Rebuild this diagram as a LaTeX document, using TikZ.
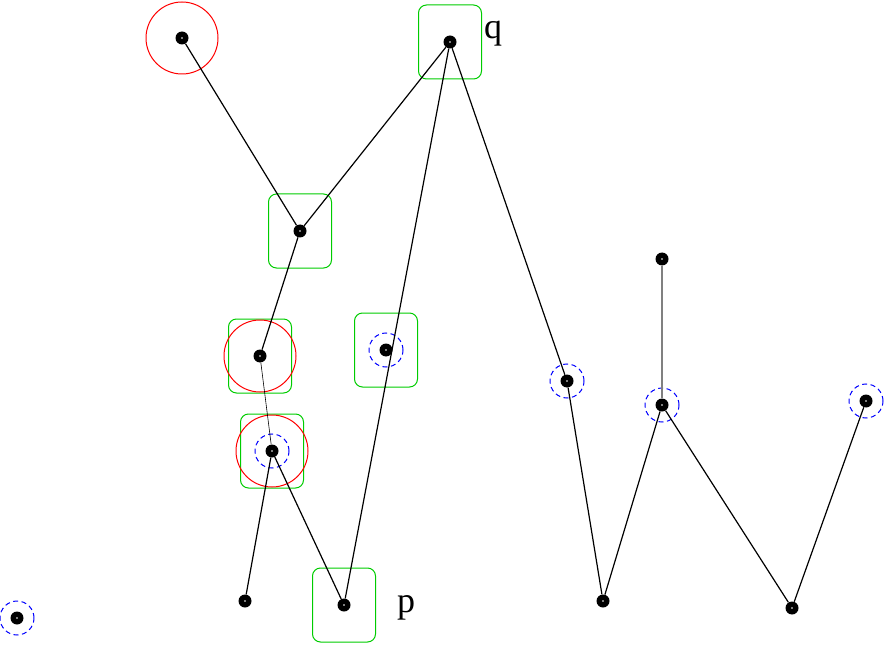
\documentclass[tikz,border=0pt]{standalone}
\usepackage{fontspec}
\setmainfont{Liberation Serif}
\definecolor{boxgreen}{RGB}{0, 204, 0}

\begin{document}
\begin{tikzpicture}[
  x=1pt, y=-1pt,
  vert/.style={circle, fill=black, inner sep=0pt, minimum size=13pt,
    path picture={\fill[white] (path picture bounding box.center) circle (0.8pt);}},
  ring/.style={draw=red, line width=1pt},
  gbox/.style={draw=boxgreen, line width=1pt, rounded corners=8pt, minimum width=63pt, minimum height=74pt, inner sep=0pt},
  dring/.style={draw=blue, line width=1pt, dash pattern=on 5pt off 3.5pt},
  edge/.style={line width=1.2pt},
  lab/.style={font=\fontsize{36}{40}\selectfont, inner sep=0pt},
]
\useasboundingbox (0,0) rectangle (889,647);

% vertices
\node[vert] (a) at (182,38) {};
\node[vert] (q) at (450,42) {};
\node[vert] (b) at (300,231) {};
\node[vert] (c) at (260,356) {};
\node[vert] (d) at (386,350) {};
\node[vert] (e) at (272,451) {};
\node[vert] (f) at (245,601) {};
\node[vert] (p) at (344,605) {};
\node[vert] (g) at (567,381) {};
\node[vert] (h) at (603,601) {};
\node[vert] (i) at (662,259) {};
\node[vert] (j) at (662,405) {};
\node[vert] (k) at (792,608) {};
\node[vert] (l) at (866,401) {};
\node[vert] (m) at (17,618) {};

% labels
\node[lab, anchor=west] (qlab) at (484,34) {q};
\node[lab, anchor=west] (plab) at (397,608) {p};

% green boxes
\foreach \v in {q,b,c,d,e,p}
  \node[gbox] at (\v) {};

% red circles
\foreach \v in {a,c,e}
  \draw[ring] (\v) circle (36pt);

% blue dashed circles
\foreach \v in {d,e,g,j,l,m}
  \draw[dring] (\v) circle (17pt);

% edges
\draw[edge] (a) -- (b);
\draw[edge] (b) -- (q);
\draw[edge] (b) -- (c);
\draw[line width=0.6pt] (c) -- (e);
\draw[edge] (e) -- (f);
\draw[edge] (e) -- (p);
\draw[edge] (p) -- (q);
\draw[edge] (q) -- (g);
\draw[edge] (g) -- (h);
\draw[edge] (h) -- (j);
\draw[line width=1.2pt, gray] (j) -- (i);
\draw[edge] (j) -- (k);
\draw[edge] (k) -- (l);
\end{tikzpicture}
\end{document}
